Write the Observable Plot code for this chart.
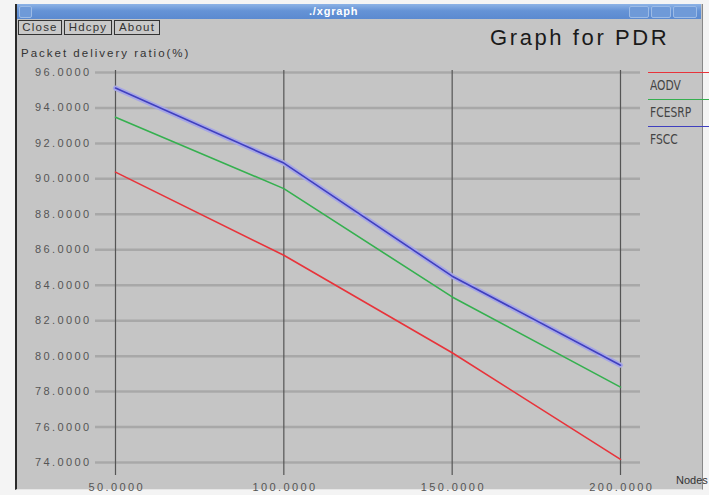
<!DOCTYPE html>
<html>
<head>
<meta charset="utf-8">
<script src="https://cdn.jsdelivr.net/npm/d3@7"></script>
<script src="https://cdn.jsdelivr.net/npm/@observablehq/plot@0.6"></script>
<style>
  html, body { margin: 0; padding: 0; background: #f4f4f4; }
  #page { position: relative; width: 709px; height: 495px; overflow: hidden; font-family: "Liberation Sans", Arial, sans-serif; }
  #win { position: absolute; left: 15px; top: 4px; width: 685px; height: 485px; background: #c5c5c5; border-left: 2px solid #2a2a2a; border-right: 1px solid #888; border-bottom: 1px solid #e6e6e6; }
  #titlebar { position: absolute; left: 17px; top: 4px; width: 684px; height: 15px; background: linear-gradient(#8db3e6, #6593d6 45%, #5b8ad0); }
  #titlebar .t { position: absolute; left: 292px; top: 1px; color: #fff; font-size: 11px; font-weight: bold; letter-spacing: 0.8px; }
  .wbox { position: absolute; top: 2px; height: 10px; border: 1px solid #9cbbe6; border-radius: 2px; background: #6f9ad8; }
  .btn { position: absolute; top: 20px; height: 15px; box-sizing: border-box; border: 1px solid #333; font-size: 11.5px; line-height: 13px; text-align: center; letter-spacing: 1.2px; color: #333; background: #c9c9c9; }
  #title { position: absolute; left: 490px; top: 27px; font-size: 22px; line-height: 22px; letter-spacing: 2.6px; color: #1a1a1a; white-space: nowrap; }
  #ylab { position: absolute; left: 21px; top: 47px; font-size: 11.5px; letter-spacing: 2px; color: #333; white-space: nowrap; }
  #plot { position: absolute; left: 0; top: 0; }
  #plot g[aria-label="y-axis tick label"] text,
  #plot g[aria-label="x-axis tick label"] text { letter-spacing: 2.4px; }
  .leg { position: absolute; left: 648px; width: 61px; height: 0; border-top: 1.5px solid; }
  .legt { position: absolute; left: 650px; font-family: "Liberation Sans Narrow", "DejaVu Sans Condensed", sans-serif; font-size: 14px; color: #444; transform: scaleX(0.85); transform-origin: left; }
  #nodes { position: absolute; left: 676px; top: 474px; font-size: 11px; color: #333; white-space: nowrap; }
</style>
</head>
<body>
<div id="page">
  <div id="win"></div>
  <div id="titlebar">
    <div class="wbox" style="left:2px;width:11px"></div>
    <div class="t">./xgraph</div>
    <div class="wbox" style="left:612px;width:18px"></div>
    <div class="wbox" style="left:634px;width:18px"></div>
    <div class="wbox" style="left:656px;width:22px"></div>
  </div>
  <div class="btn" style="left:18px;width:44px">Close</div>
  <div class="btn" style="left:64px;width:48px">Hdcpy</div>
  <div class="btn" style="left:114px;width:46px">About</div>
  <div id="title">Graph for PDR</div>
  <div id="ylab">Packet delivery ratio(%)</div>
  <div id="plot"></div>
  <div id="legend"></div>
  <div id="nodes">Nodes</div>
</div>
<script>
const nodes = [50, 100, 150, 200];
const series = ["AODV", "FCESRP", "FSCC"];
const colors = ["#e8333a", "#35b04f", "#3f3fbf"];
const aodv = [90.38, 85.69, 80.19, 74.18];
const fcesrp = [93.48, 89.45, 83.34, 78.25];
const fscc = [95.12, 90.89, 84.51, 79.49];
const yTicks = [74, 76, 78, 80, 82, 84, 86, 88, 90, 92, 94, 96];
const xTicks = [50, 100, 150, 200];

const values = {AODV: aodv, FCESRP: fcesrp, FSCC: fscc};
const data = series.flatMap(s => nodes.map((n, i) => ({series: s, nodes: n, pdr: values[s][i]})));
const fmt = d => d.toFixed(4);

const chart = Plot.plot({
  width: 709,
  height: 495,
  marginLeft: 95,
  marginRight: 69,
  marginTop: 70,
  marginBottom: 20,
  style: {background: "transparent", fontFamily: "Liberation Sans, Arial, sans-serif"},
  x: {domain: [50, 200], insetLeft: 20, insetRight: 20},
  y: {domain: [74, 96], insetTop: 2, insetBottom: 13},
  color: {domain: series, range: colors},
  marks: [
    Plot.ruleY(yTicks, {stroke: "#a8a8a8", strokeWidth: 2.5}),
    Plot.ruleX(xTicks, {stroke: "#555", strokeWidth: 1.2}),
    Plot.axisY(yTicks, {tickSize: 0, tickPadding: 4, tickFormat: fmt, fontSize: 11, fill: "#555", label: null}),
    Plot.axisX(xTicks, {tickSize: 0, tickPadding: 8, tickFormat: fmt, fontSize: 11, fill: "#555", label: null, dx: 1.2}),
    Plot.line(data.filter(d => d.series === "FSCC"), {x: "nodes", y: "pdr", stroke: "#a6a6e6", strokeWidth: 5}),
    Plot.line(data, {x: "nodes", y: "pdr", z: "series", stroke: "series", strokeWidth: 1.6})
  ]
});
document.getElementById("plot").appendChild(chart);

const legend = document.getElementById("legend");
const legTop = [72, 99, 126];
series.forEach((s, i) => {
  const l = document.createElement("div");
  l.className = "leg";
  l.style.top = legTop[i] + "px";
  l.style.borderTopColor = colors[i];
  legend.appendChild(l);
  const t = document.createElement("div");
  t.className = "legt";
  t.style.top = (legTop[i] + 5) + "px";
  t.textContent = s;
  legend.appendChild(t);
});
</script>
</body>
</html>
